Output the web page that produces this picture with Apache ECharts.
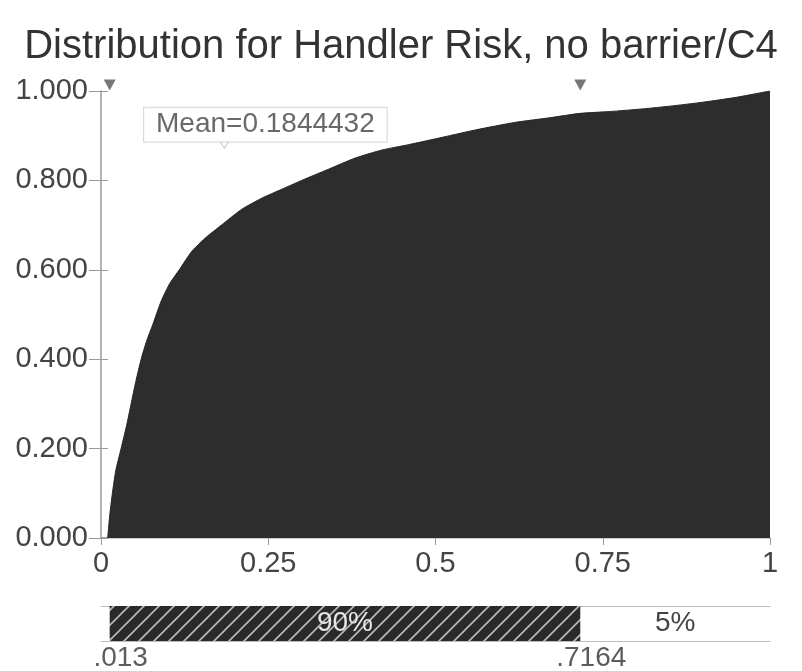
<!DOCTYPE html>
<html>
<head>
<meta charset="utf-8">
<script src="https://cdn.jsdelivr.net/npm/echarts@6/dist/echarts.min.js"></script>
<style>html,body{margin:0;padding:0;background:#fff;}#c{width:802px;height:671px;}</style>
</head>
<body>
<div id="c"></div>
<script>
// ---- data ----
const titleText = 'Distribution for Handler Risk, no barrier/C4';
const xValues = [0.010, 0.013, 0.017, 0.022, 0.030, 0.038, 0.045, 0.052, 0.060, 0.068, 0.078, 0.090, 0.103, 0.117, 0.135, 0.155, 0.18, 0.21, 0.24, 0.27, 0.30, 0.34, 0.38, 0.42, 0.46, 0.50, 0.56, 0.62, 0.67, 0.7164, 0.76, 0.81, 0.85, 0.90, 0.95, 1.0];
const cdfValues = [0, 0.05, 0.10, 0.15, 0.20, 0.25, 0.30, 0.35, 0.40, 0.44, 0.48, 0.53, 0.57, 0.60, 0.64, 0.67, 0.70, 0.735, 0.76, 0.78, 0.80, 0.825, 0.85, 0.868, 0.88, 0.893, 0.913, 0.93, 0.94, 0.95, 0.954, 0.96, 0.966, 0.975, 0.986, 1.0];
const pctValues = [0.013, 0.7164];
const pctLabels = ['.013', '.7164'];
const bandLabels = ['90%', '5%'];
const meanValue = 0.1844432;
const meanText = 'Mean=0.1844432';

// ---- build ----
const FONT = 'Liberation Sans, Arial, sans-serif';
const pts = xValues.map((x, i) => [x, cdfValues[i]]);

function hatch() {
  const s = 15;
  const c = document.createElement('canvas');
  c.width = s; c.height = s;
  const g = c.getContext('2d');
  g.fillStyle = '#2a2a2a';
  g.fillRect(0, 0, s, s);
  g.strokeStyle = 'rgba(235,235,235,0.75)';
  g.lineWidth = 1.6;
  g.beginPath();
  g.moveTo(-2, s + 2); g.lineTo(s + 2, -2);
  g.moveTo(-2, 2); g.lineTo(2, -2);
  g.moveTo(s - 2, s + 2); g.lineTo(s + 2, s - 2);
  g.stroke();
  return c;
}

const chart = echarts.init(document.getElementById('c'), null, {renderer: 'canvas'});
const option = {
  animation: false,
  backgroundColor: '#fff',
  title: {
    text: titleText, left: 'center', top: 22,
    textStyle: {fontFamily: FONT, fontSize: 40, fontWeight: 'normal', color: '#333'}
  },
  grid: [
    {left: 101, right: 32, top: 91, bottom: 133},
    {left: 101, right: 32, top: 606, height: 35}
  ],
  xAxis: [
    {gridIndex: 0, type: 'value', min: 0, max: 1, interval: 0.25,
     axisLine: {show: true, lineStyle: {color: '#888', width: 1.5}},
     axisTick: {show: true, length: 7, lineStyle: {color: '#999'}},
     axisLabel: {margin: 11, fontFamily: FONT, fontSize: 29, color: '#444'},
     splitLine: {show: false}},
    {gridIndex: 0, type: 'value', min: 0, max: 1, position: 'top',
     axisLine: {show: true, lineStyle: {color: '#ccc'}},
     axisTick: {show: false}, axisLabel: {show: false}, splitLine: {show: false}},
    {gridIndex: 1, type: 'value', min: 0, max: 1, position: 'bottom',
     axisLine: {show: true, lineStyle: {color: '#bbb'}},
     axisTick: {show: false}, axisLabel: {show: false}, splitLine: {show: false}},
    {gridIndex: 1, type: 'value', min: 0, max: 1, position: 'top',
     axisLine: {show: true, lineStyle: {color: '#bbb'}},
     axisTick: {show: false}, axisLabel: {show: false}, splitLine: {show: false}}
  ],
  yAxis: [
    {gridIndex: 0, type: 'value', min: 0, max: 1, interval: 0.2,
     axisLine: {show: true, lineStyle: {color: '#999', width: 1.5}},
     axisTick: {show: true, length: 12, lineStyle: {color: '#999'}},
     axisLabel: {margin: 13, fontFamily: FONT, fontSize: 29, color: '#444',
                 formatter: v => v.toFixed(3)},
     splitLine: {show: false}},
    {gridIndex: 0, type: 'value', min: 0, max: 1, interval: 0.2, position: 'left',
     axisLine: {show: false},
     axisTick: {show: true, inside: true, length: 7, lineStyle: {color: '#999'}},
     axisLabel: {show: false}, splitLine: {show: false}},
    {gridIndex: 1, type: 'category', data: ['band'], show: false}
  ],
  series: [
    {type: 'line', xAxisIndex: 0, yAxisIndex: 0, data: pts, showSymbol: false,
     smooth: 0.2,
     lineStyle: {color: '#262626', width: 1},
     areaStyle: {color: '#2d2d2d', opacity: 1}, z: 2},
    {type: 'scatter', xAxisIndex: 0, yAxisIndex: 0,
     data: pctValues.map(v => [v, 1]),
     symbol: 'triangle', symbolRotate: 180, symbolSize: [12, 11], symbolOffset: [0, -6],
     itemStyle: {color: '#555'}, z: 5},
    {type: 'scatter', xAxisIndex: 0, yAxisIndex: 0,
     data: [[meanValue, 0.880]],
     symbol: 'triangle', symbolRotate: 180, symbolSize: [9, 7],
     itemStyle: {color: '#fff', borderColor: '#bbb', borderWidth: 1},
     label: {show: true, position: 'inside', offset: [41, -20], formatter: meanText,
             fontFamily: FONT, fontSize: 28, lineHeight: 28, color: '#444',
             backgroundColor: '#fff', borderColor: '#d0d0d0', borderWidth: 1,
             padding: [3, 12, 3, 12]},
     z: 6},
    {type: 'bar', xAxisIndex: 2, yAxisIndex: 2, stack: 'p', barWidth: '100%',
     data: [pctValues[0]], itemStyle: {color: 'rgba(0,0,0,0)'}, silent: true},
    {type: 'bar', xAxisIndex: 2, yAxisIndex: 2, stack: 'p', barWidth: '100%',
     data: [pctValues[1] - pctValues[0]],
     itemStyle: {color: {image: hatch(), repeat: 'repeat'}},
     label: {show: true, position: 'inside', formatter: bandLabels[0],
             fontFamily: FONT, fontSize: 28, color: '#e6e6e6'}},
    {type: 'bar', xAxisIndex: 2, yAxisIndex: 2, stack: 'p', barWidth: '100%',
     data: [1 - pctValues[1]], itemStyle: {color: 'rgba(0,0,0,0)'},
     label: {show: true, position: 'inside', formatter: bandLabels[1],
             fontFamily: FONT, fontSize: 28, color: '#444'}},
    {type: 'scatter', xAxisIndex: 2, yAxisIndex: 2,
     data: pctValues.map(v => [v, 'band']), symbolSize: 0,
     label: {show: true, position: 'inside', offset: [11, 35],
             formatter: p => pctLabels[p.dataIndex],
             fontFamily: FONT, fontSize: 28, color: '#333'}, z: 6}
  ]
};
chart.setOption(option);
</script>
</body>
</html>
